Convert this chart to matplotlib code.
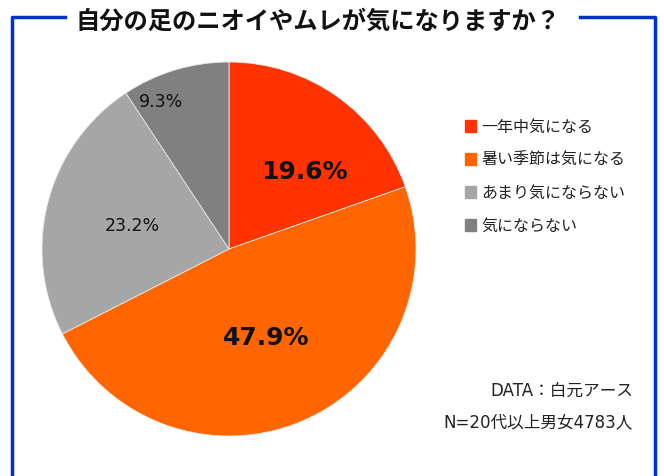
import matplotlib
matplotlib.use("Agg")
import matplotlib.pyplot as plt
import numpy as np
from matplotlib.lines import Line2D

plt.rcParams['font.family'] = ['DejaVu Sans', 'Noto Sans CJK JP']

categories = ["一年中気になる", "暑い季節は気になる", "あまり気にならない", "気にならない"]
values = [19.6, 47.9, 23.2, 9.3]
colors = ["#FF3300", "#FF6600", "#A6A6A6", "#808080"]
title = "自分の足のニオイやムレが気になりますか？"
source = "DATA：白元アース"
note = "N=20代以上男女4783人"

W, H = 664, 477
fig = plt.figure(figsize=(W / 100, H / 100), dpi=100)

blue = "#0033CC"
def px(x, y):
    return x / W, 1 - y / H
for xs, ys in [([12, 12, 65], [477, 18, 18]), ([580, 655, 655], [18, 18, 477])]:
    pts = [px(x, y) for x, y in zip(xs, ys)]
    fig.add_artist(Line2D([p[0] for p in pts], [p[1] for p in pts],
                          color=blue, lw=2.5, transform=fig.transFigure))

fig.text(318 / W, 1 - 22 / H, title, ha="center", va="center",
         fontsize=17.5, fontweight="bold", color="#111111",
         family=['Noto Sans CJK JP', 'DejaVu Sans'])

cx, cy, r = 229, 250, 187
ax = fig.add_axes([(cx - r) / W, (H - cy - r) / H, 2 * r / W, 2 * r / H])
wedges, texts, autotexts = ax.pie(
    values, colors=colors, startangle=90, counterclock=False,
    autopct=lambda p: f"{p:.1f}%", pctdistance=0.55,
    wedgeprops=dict(edgecolor="#E8E8E8", linewidth=0.6))
ax.set_xlim(-1, 1)
ax.set_ylim(-1, 1)
ax.set_aspect("auto")
ax.axis("off")

label_r = [0.58, 0.51, 0.535, 0.87]
angle_shift = [-9, 0, 1, 8]
bold = [True, True, False, False]
for w, t, lr, sh, v, b in zip(wedges, autotexts, label_r, angle_shift, values, bold):
    ang = np.deg2rad((w.theta1 + w.theta2) / 2 + sh)
    t.set_position((lr * np.cos(ang), lr * np.sin(ang)))
    t.set_text(f"{v:.1f}%")
    t.set_color("#111111")
    if b:
        t.set_fontsize(18)
        t.set_fontweight("bold")
    else:
        t.set_fontsize(12.5)

ly = [127, 160, 193, 226]
for c, lab, y in zip(colors, categories, ly):
    fig.patches.append(plt.Rectangle(px(465, y + 6), 11 / W, 12 / H, color=c,
                                     transform=fig.transFigure))
    fig.text(481 / W, 1 - y / H, lab, ha="left", va="center", fontsize=11.5,
             color="#222222")

fig.text(633 / W, 1 - 392 / H, source, ha="right", va="center", fontsize=12, color="#222222")
fig.text(633 / W, 1 - 422 / H, note, ha="right", va="center", fontsize=12, color="#222222")

fig.savefig("out.png", dpi=100)
